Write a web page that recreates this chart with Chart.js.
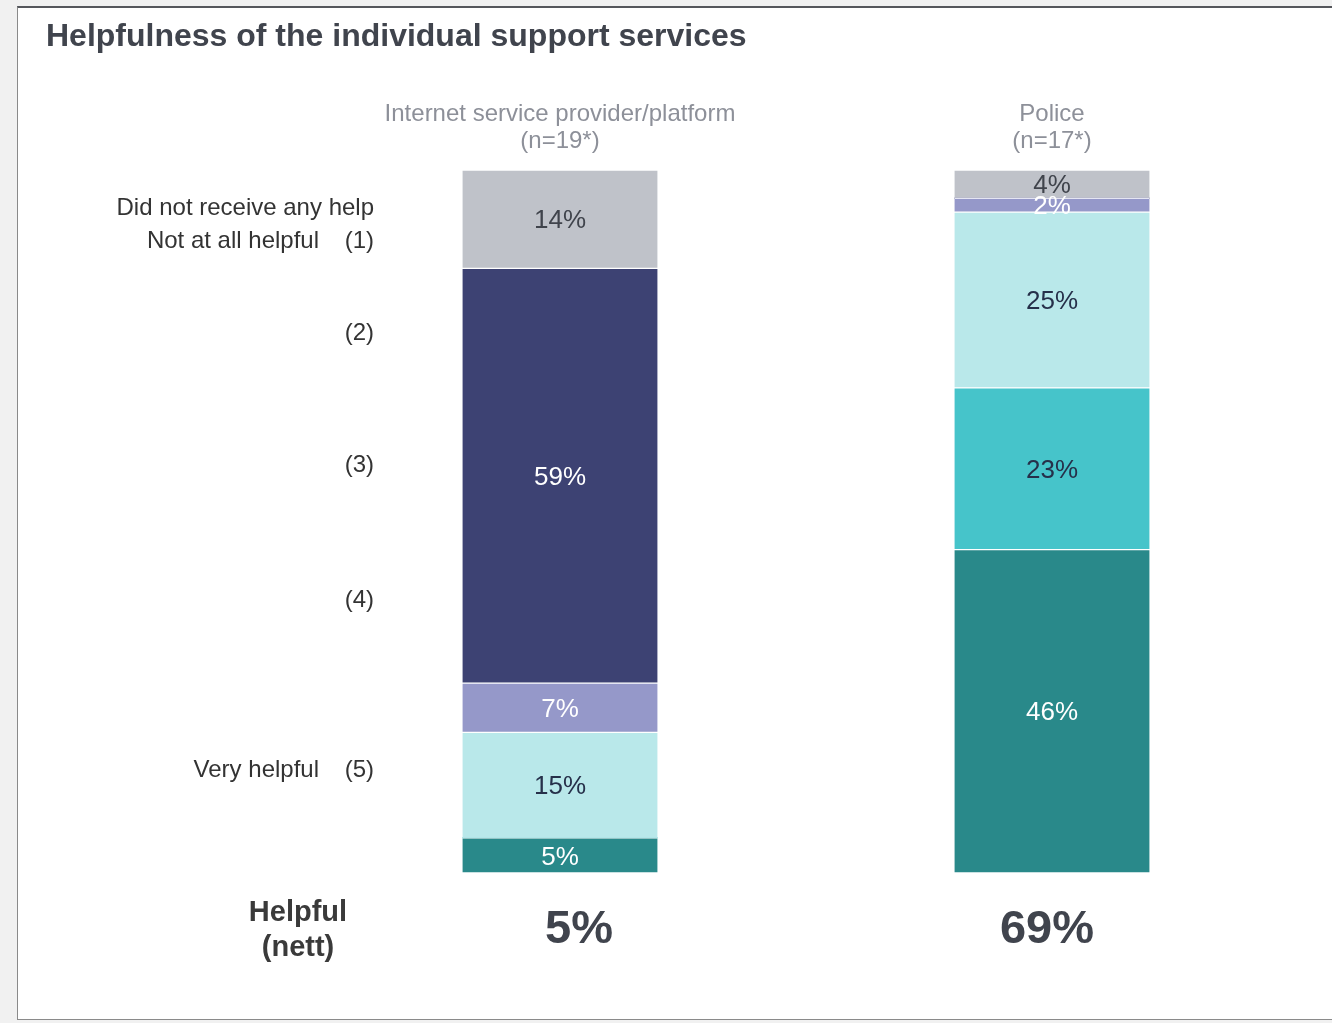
<!DOCTYPE html>
<html>
<head>
<meta charset="utf-8">
<script src="https://cdn.jsdelivr.net/npm/chart.js@4/dist/chart.umd.min.js"></script>
<style>
  html, body { margin: 0; padding: 0; background: #f1f1f1; overflow: hidden; }
  #frame {
    position: absolute; left: 17px; top: 6px; width: 1400px; height: 1011px;
    background: #fff; border: 1px solid #8a8a8a; border-top: 2px solid #55575c;
  }
  #wrap { position: absolute; left: 0; top: 0; width: 1332px; height: 1023px; }
</style>
</head>
<body>
<div id="frame"></div>
<div id="wrap"><canvas id="helpful_bar"></canvas></div>
<script>
// Servicios y respuestas (porcentajes)
const servicios = ["Internet service provider/platform", "Police"];
const muestras = ["(n=19*)", "(n=17*)"];
const sinAyuda = [14, 4];
const nadaUtil1 = [59, 0];
const nivel2 = [7, 2];
const nivel3 = [15, 25];
const nivel4 = [0, 23];
const muyUtil5 = [5, 46];
const utilNeto = ["5%", "69%"];

// Etiquetas de la izquierda: [texto, número de escala, y]
const etiquetasEscala = [
  ["Did not receive any help", "", 208],
  ["Not at all helpful", "(1)", 241],
  ["", "(2)", 333],
  ["", "(3)", 465],
  ["", "(4)", 600],
  ["Very helpful", "(5)", 770],
];

const FONT = "'Liberation Sans', Arial, sans-serif";

// De abajo hacia arriba en la pila
const series = [
  { label: "(5)", data: muyUtil5, color: "#29898a", text: "#ffffff" },
  { label: "(4)", data: nivel4, color: "#46c4ca", text: "#26304a" },
  { label: "(3)", data: nivel3, color: "#b9e8ea", text: "#26304a" },
  { label: "(2)", data: nivel2, color: "#9598c9", text: "#ffffff" },
  { label: "(1)", data: nadaUtil1, color: "#3d4273", text: "#ffffff" },
  { label: "Did not receive any help", data: sinAyuda, color: "#bfc2c9", text: "#40444c" },
];

const textosPlugin = {
  id: "textos",
  afterDatasetsDraw(chart) {
    const ctx = chart.ctx;
    const x = chart.scales.x;
    ctx.save();
    ctx.textBaseline = "middle";

    // Valores dentro de cada segmento
    ctx.font = "26px " + FONT;
    ctx.textAlign = "center";
    chart.data.datasets.forEach((ds, i) => {
      const meta = chart.getDatasetMeta(i);
      meta.data.forEach((bar, j) => {
        const v = ds.data[j];
        if (!v) return;
        ctx.fillStyle = series[i].text;
        ctx.fillText(v + "%", bar.x, (bar.y + bar.base) / 2 + 2);
      });
    });

    // Título
    ctx.textAlign = "left";
    ctx.fillStyle = "#40444d";
    ctx.font = "bold 32px " + FONT;
    ctx.fillText("Helpfulness of the individual support services", 46, 37);

    // Nombres de los servicios arriba de cada barra
    ctx.textAlign = "center";
    ctx.fillStyle = "#8d9099";
    ctx.font = "24px " + FONT;
    servicios.forEach((s, i) => {
      const cx = x.getPixelForValue(i);
      ctx.fillText(s, cx, 114);
      ctx.fillText(muestras[i], cx, 141);
    });

    // Escala de utilidad a la izquierda
    ctx.fillStyle = "#333333";
    ctx.textAlign = "right";
    etiquetasEscala.forEach(([txt, num, y]) => {
      if (num) {
        ctx.fillText(num, 374, y);
        if (txt) ctx.fillText(txt, 319, y);
      } else {
        ctx.fillText(txt, 374, y);
      }
    });

    // Útil (neto)
    ctx.textAlign = "center";
    ctx.font = "bold 29px " + FONT;
    ctx.fillStyle = "#3a3a3a";
    ctx.fillText("Helpful", 298, 913);
    ctx.fillText("(nett)", 298, 948);
    ctx.font = "bold 47px " + FONT;
    ctx.fillStyle = "#40444d";
    utilNeto.forEach((t, i) => {
      ctx.fillText(t, x.getPixelForValue(i) + (i === 0 ? 19 : -5), 930);
    });
    ctx.restore();
  },
};

const ctx = document.getElementById("helpful_bar").getContext("2d");
const chart = new Chart(ctx, {
  type: "bar",
  data: {
    labels: servicios,
    datasets: series.map((s) => ({
      label: s.label,
      data: s.data,
      backgroundColor: s.color,
      borderColor: "#ffffff",
      borderWidth: { top: 1, bottom: 1, left: 0, right: 0 },
      borderSkipped: false,
      barThickness: 195,
    })),
  },
  options: {
    responsive: true,
    maintainAspectRatio: false,
    animation: false,
    layout: {
      padding: { left: 314, right: 34, top: 170, bottom: 150 },
    },
    scales: {
      x: { stacked: true, display: false },
      y: { stacked: true, display: false, min: 0, max: 100 },
    },
    plugins: {
      legend: { display: false },
      tooltip: { enabled: false },
    },
  },
  plugins: [textosPlugin],
});
</script>
</body>
</html>
